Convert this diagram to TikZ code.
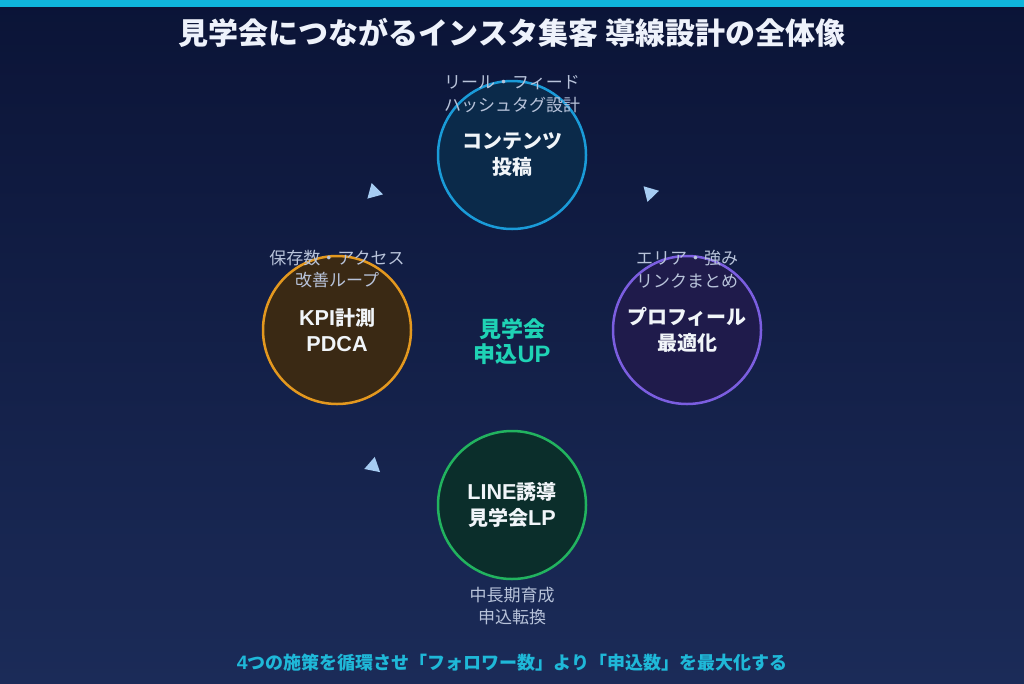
\documentclass[tikz,border=0pt]{standalone}
\usepackage{fontspec}
\setmainfont{Noto Sans CJK JP}
\newfontfamily\latinsans[Scale=1.08, BoldFont={Liberation Sans Bold}]{Liberation Sans}
\newcommand{\lat}[1]{{\latinsans\bfseries #1}}
\usetikzlibrary{shapes.geometric}
\definecolor{bgtop}{HTML}{0B1437}
\definecolor{bgbot}{HTML}{1B2B58}
\definecolor{barcyan}{HTML}{0FB5DC}
\definecolor{titlewhite}{HTML}{EEF2FB}
\definecolor{subgrey}{HTML}{B8C3DA}
\definecolor{stepwhite}{HTML}{F1F5F9}
\definecolor{coreteal}{HTML}{1FD3B5}
\definecolor{notecyan}{HTML}{1FB8D8}
\definecolor{tipblue}{HTML}{A6CCF2}
\definecolor{postline}{HTML}{1A9BD8}
\definecolor{postfill}{HTML}{0B2A4A}
\definecolor{profline}{HTML}{7B5EE0}
\definecolor{proffill}{HTML}{1F1B4B}
\definecolor{lineline}{HTML}{22B35F}
\definecolor{linefill}{HTML}{0B2E2B}
\definecolor{kpiline}{HTML}{E3981F}
\definecolor{kpifill}{HTML}{3A2914}
\begin{document}
\begin{tikzpicture}
			[
				x                       = 1pt,
				y                       = -1pt,
				align					= center,
				stepcircle/.style       = {circle, minimum size=148pt, inner sep=0pt, line width=2.5pt,
				                           text=stepwhite, font=\fontsize{20}{26}\selectfont\bfseries},
				sublabel/.style         = {text=subgrey, font=\fontsize{17}{22.5}\selectfont},
				arrowtip/.style         = {isosceles triangle, isosceles triangle stretches, fill=tipblue,
				                           inner sep=0pt, minimum width=16pt, minimum height=14pt}
			]
			\useasboundingbox (0,0) rectangle (1024,683);
			\shade [top color=bgtop, bottom color=bgbot] (0,0) rectangle (1024,683);
			\fill [barcyan] (0,0) rectangle (1024,7);
			\node [text=titlewhite, font=\fontsize{30}{34}\selectfont\bfseries] (title) at (512,33)
				{見学会につながるインスタ集客 導線設計の全体像};
			% four steps of the loop
			\node [stepcircle, draw=postline, fill=postfill] (post) at (512,155) {コンテンツ\\投稿};
			\node [stepcircle, draw=profline, fill=proffill] (prof) at (687,330) {プロフィール\\最適化};
			\node [stepcircle, draw=lineline, fill=linefill] (line) at (512,505) {\lat{LINE}誘導\\見学会\lat{LP}};
			\node [stepcircle, draw=kpiline, fill=kpifill]   (kpi)  at (337,330) {\lat{KPI}計測\\\lat{PDCA}};
			\node [sublabel] (postsub) at (512,94)  {リール・フィード\\ハッシュタグ設計};
			\node [sublabel] (profsub) at (687,269) {エリア・強み\\リンクまとめ};
			\node [sublabel] (linesub) at (512,606) {中長期育成\\申込転換};
			\node [sublabel] (kpisub)  at (337,269) {保存数・アクセス\\改善ループ};
			\node [text=coreteal, font=\fontsize{22}{25}\selectfont\bfseries] (core) at (512,342) {見学会\\申込\lat{UP}};
			% arrow heads between the steps
			\node [arrowtip, rotate=225] (tippost) at (374,192) {};
			\node [arrowtip, rotate=134] (tipprof) at (650,193) {};
			\node [arrowtip, rotate=319] (tipkpi)  at (373,466) {};
			\node [text=notecyan, font=\fontsize{18}{22}\selectfont\bfseries] (note) at (512,663)
				{\lat{4}つの施策を循環させ「フォロワー数」より「申込数」を最大化する};
		\end{tikzpicture}
\end{document}
